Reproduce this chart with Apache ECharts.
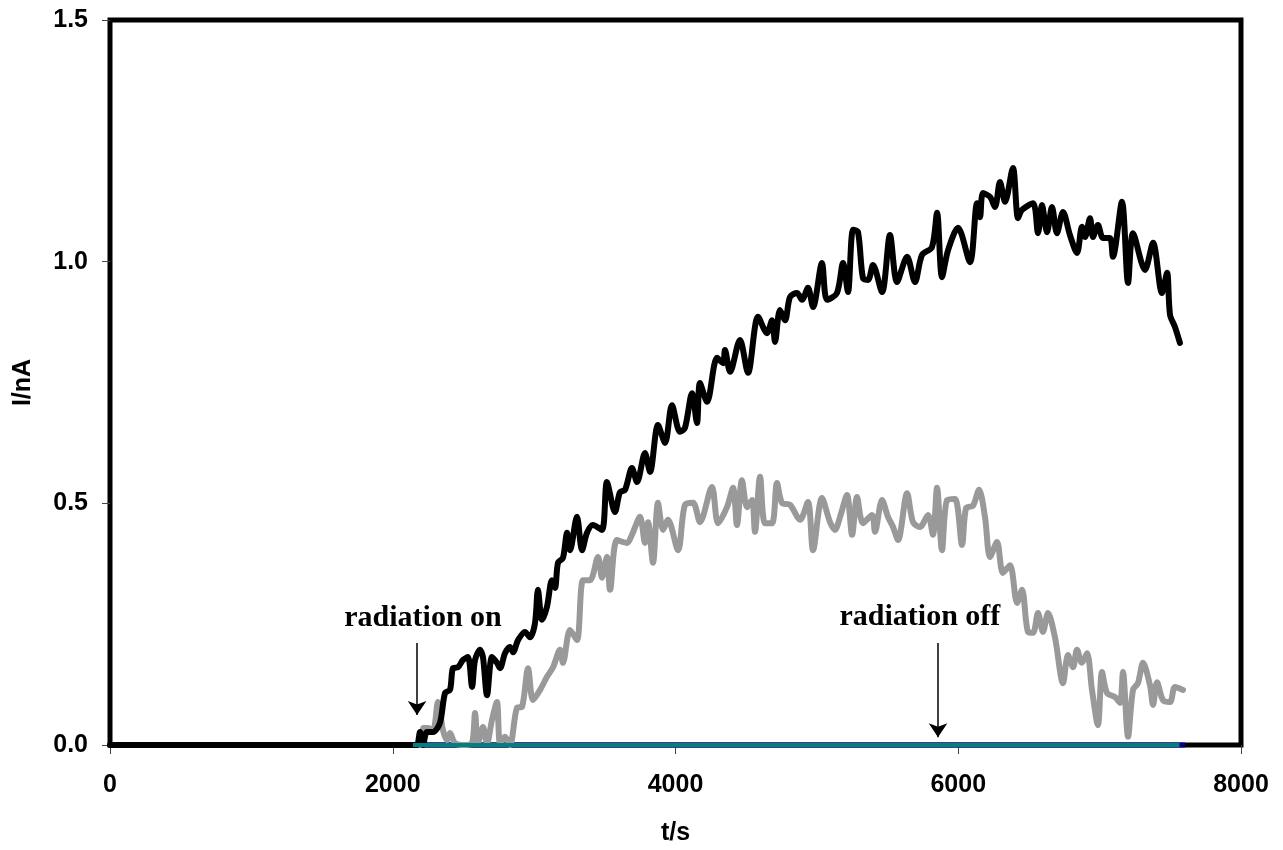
<!DOCTYPE html>
<html>
<head>
<meta charset="utf-8">
<script src="https://cdn.jsdelivr.net/npm/echarts@6/dist/echarts.min.js"></script>
<style>
    html, body { margin: 0; padding: 0; background: #fff; }
    #chart { width: 1283px; height: 850px; }
</style>
</head>
<body>
<div id="chart"></div>
<script>
// x axis ticks (t/s) and y axis ticks (I/nA)
const xTicks = [0, 2000, 4000, 6000, 8000];
const yTicks = [0, 0.5, 1.0, 1.5];

// black trace
const blackT = [0, 2150, 2172, 2193, 2214, 2242, 2285, 2334, 2370, 2405, 2426, 2462, 2497, 2532, 2561, 2582, 2617, 2638, 2667, 2702, 2737, 2759, 2794, 2829, 2851, 2886, 2935, 2971, 3006, 3027, 3056, 3091, 3126, 3148, 3169, 3204, 3233, 3254, 3303, 3339, 3374, 3416, 3480, 3515, 3572, 3607, 3643, 3692, 3728, 3784, 3820, 3876, 3926, 3975, 4032, 4067, 4117, 4152, 4173, 4223, 4294, 4336, 4350, 4386, 4456, 4513, 4584, 4647, 4683, 4704, 4739, 4775, 4810, 4859, 4895, 4937, 4973, 5036, 5072, 5142, 5185, 5220, 5256, 5291, 5326, 5362, 5397, 5461, 5517, 5567, 5638, 5694, 5744, 5814, 5850, 5885, 5928, 5998, 6083, 6133, 6154, 6175, 6225, 6260, 6295, 6331, 6387, 6423, 6451, 6529, 6564, 6592, 6628, 6663, 6698, 6741, 6790, 6840, 6875, 6897, 6932, 6953, 6988, 7024, 7073, 7094, 7158, 7201, 7236, 7321, 7378, 7441, 7477, 7498, 7533, 7568];
const blackI = [0, 0, 0, 0.027, 0, 0.027, 0.027, 0.046, 0.108, 0.114, 0.159, 0.161, 0.176, 0.182, 0.120, 0.176, 0.197, 0.182, 0.103, 0.182, 0.170, 0.159, 0.190, 0.203, 0.192, 0.217, 0.234, 0.223, 0.252, 0.321, 0.259, 0.286, 0.341, 0.325, 0.377, 0.387, 0.439, 0.403, 0.472, 0.403, 0.439, 0.455, 0.445, 0.544, 0.482, 0.523, 0.528, 0.573, 0.544, 0.604, 0.565, 0.662, 0.625, 0.703, 0.648, 0.656, 0.728, 0.666, 0.749, 0.710, 0.801, 0.790, 0.817, 0.772, 0.838, 0.770, 0.886, 0.852, 0.879, 0.834, 0.900, 0.879, 0.927, 0.935, 0.921, 0.946, 0.906, 0.997, 0.921, 0.935, 0.997, 0.937, 1.066, 1.061, 0.966, 0.962, 0.993, 0.937, 1.055, 0.958, 1.010, 0.958, 1.014, 1.030, 1.101, 0.968, 1.024, 1.070, 0.999, 1.121, 1.092, 1.142, 1.134, 1.113, 1.165, 1.124, 1.194, 1.090, 1.107, 1.121, 1.059, 1.117, 1.061, 1.113, 1.059, 1.103, 1.055, 1.018, 1.072, 1.051, 1.090, 1.051, 1.076, 1.049, 1.049, 1.010, 1.124, 0.956, 1.059, 0.983, 1.039, 0.935, 0.977, 0.890, 0.865, 0.832];

// grey trace
const grayT = [2200, 2214, 2249, 2285, 2320, 2355, 2384, 2405, 2440, 2511, 2561, 2582, 2603, 2638, 2667, 2702, 2737, 2759, 2794, 2829, 2879, 2914, 2957, 2992, 3042, 3091, 3134, 3183, 3204, 3254, 3303, 3346, 3395, 3452, 3480, 3515, 3537, 3586, 3657, 3692, 3749, 3784, 3806, 3841, 3876, 3912, 3947, 4018, 4067, 4124, 4173, 4258, 4301, 4364, 4407, 4435, 4470, 4506, 4541, 4562, 4598, 4633, 4683, 4718, 4753, 4810, 4881, 4937, 4973, 5036, 5093, 5128, 5164, 5213, 5249, 5284, 5326, 5390, 5411, 5461, 5503, 5539, 5574, 5638, 5680, 5729, 5786, 5821, 5850, 5885, 5921, 5977, 6027, 6055, 6104, 6147, 6189, 6225, 6274, 6316, 6366, 6416, 6451, 6493, 6529, 6564, 6599, 6635, 6684, 6741, 6776, 6812, 6840, 6875, 6911, 6946, 6988, 7017, 7052, 7109, 7144, 7165, 7201, 7236, 7271, 7307, 7356, 7378, 7406, 7448, 7498, 7533, 7590];
const grayI = [0, 0.035, 0.035, 0.031, 0.089, 0.031, 0.010, 0.025, 0.004, 0, 0.004, 0.066, 0.004, 0.037, 0.004, 0.052, 0.089, 0.004, 0.017, 0, 0.077, 0.079, 0.159, 0.093, 0.114, 0.141, 0.161, 0.197, 0.170, 0.238, 0.217, 0.341, 0.341, 0.389, 0.346, 0.389, 0.321, 0.424, 0.418, 0.435, 0.472, 0.418, 0.461, 0.377, 0.501, 0.445, 0.466, 0.403, 0.497, 0.501, 0.461, 0.534, 0.459, 0.492, 0.532, 0.455, 0.548, 0.492, 0.507, 0.441, 0.555, 0.459, 0.459, 0.542, 0.501, 0.497, 0.466, 0.503, 0.403, 0.511, 0.461, 0.445, 0.472, 0.517, 0.435, 0.513, 0.459, 0.476, 0.441, 0.507, 0.472, 0.451, 0.424, 0.521, 0.461, 0.451, 0.476, 0.435, 0.532, 0.403, 0.507, 0.509, 0.414, 0.490, 0.495, 0.528, 0.472, 0.389, 0.420, 0.356, 0.372, 0.294, 0.321, 0.234, 0.232, 0.273, 0.234, 0.273, 0.223, 0.128, 0.186, 0.161, 0.197, 0.170, 0.190, 0.114, 0.041, 0.151, 0.108, 0.099, 0.087, 0.151, 0.017, 0.114, 0.128, 0.170, 0.124, 0.083, 0.130, 0.093, 0.089, 0.120, 0.114];

// baseline traces sitting on zero
const tealT = [2143, 7565];
const tealI = [0, 0];
const navyT = [2143, 7605];
const navyI = [0, 0];

// annotations: [label, text t, text I, arrow t, arrow top I, arrow tip I]
const notes = [
    ["radiation on", 2214, 0.263, 2172, 0.211, 0.062],
    ["radiation off", 5729, 0.265, 5857, 0.211, 0.016],
];

const zip = (a, b) => a.map((v, i) => [v, b[i]]);
const axisFont = { fontFamily: "Liberation Sans", fontWeight: "bold", fontSize: 25, color: "#000" };

const chart = echarts.init(document.getElementById("chart"));
chart.setOption({
    animation: false,
    backgroundColor: "#fff",
    grid: {
        left: 110,
        top: 20,
        right: 42,
        bottom: 105,
        containLabel: false,
        outerBoundsMode: "none",
        show: true,
        borderColor: "#000",
        borderWidth: 5,
    },
    xAxis: {
        type: "value",
        min: xTicks[0],
        max: xTicks[xTicks.length - 1],
        interval: xTicks[1] - xTicks[0],
        name: "t/s",
        nameLocation: "middle",
        nameGap: 76,
        nameTextStyle: axisFont,
        axisLine: { show: false },
        axisTick: { show: true, inside: false, length: 9, lineStyle: { color: "#444", width: 1 } },
        axisLabel: Object.assign({ margin: 28, formatter: (v) => String(v) }, axisFont),
        splitLine: { show: false },
    },
    yAxis: {
        type: "value",
        min: yTicks[0],
        max: yTicks[yTicks.length - 1],
        interval: yTicks[1] - yTicks[0],
        name: "I/nA",
        nameLocation: "middle",
        nameGap: 74,
        nameTextStyle: axisFont,
        axisLine: { show: false },
        axisTick: { show: true, inside: false, length: 8, lineStyle: { color: "#444", width: 1 } },
        axisLabel: Object.assign({ margin: 22, formatter: (v) => v.toFixed(1) }, axisFont),
        splitLine: { show: false },
    },
    series: [
        {
            type: "line",
            data: zip(navyT, navyI),
            showSymbol: false,
            clip: false,
            z: 5,
            lineStyle: { color: "#000080", width: 5 },
        },
        {
            type: "line",
            data: zip(grayT, grayI),
            showSymbol: false,
            smooth: 0.3,
            clip: false,
            z: 6,
            lineStyle: { color: "#999999", width: 6, join: "round", cap: "round" },
        },
        {
            type: "line",
            data: zip(blackT, blackI),
            showSymbol: false,
            smooth: 0.3,
            clip: false,
            z: 7,
            lineStyle: { color: "#000000", width: 6, join: "round", cap: "round" },
            markLine: {
                silent: true,
                symbol: ["none", "arrow"],
                symbolSize: 14,
                lineStyle: { color: "#000", width: 1.5, type: "solid" },
                label: { show: false },
                data: notes.map((n) => [{ coord: [n[3], n[4]] }, { coord: [n[3], n[5]] }]),
            },
            markPoint: {
                silent: true,
                symbol: "circle",
                symbolSize: 0,
                label: {
                    show: true,
                    position: "inside",
                    fontFamily: "Liberation Serif",
                    fontWeight: "bold",
                    fontSize: 30,
                    color: "#000",
                    formatter: (p) => p.name,
                },
                data: notes.map((n) => ({ name: n[0], coord: [n[1], n[2]] })),
            },
        },
        {
            type: "line",
            data: zip(tealT, tealI),
            showSymbol: false,
            clip: false,
            z: 8,
            lineStyle: { color: "#008080", width: 4 },
        },
    ],
});
</script>
</body>
</html>
